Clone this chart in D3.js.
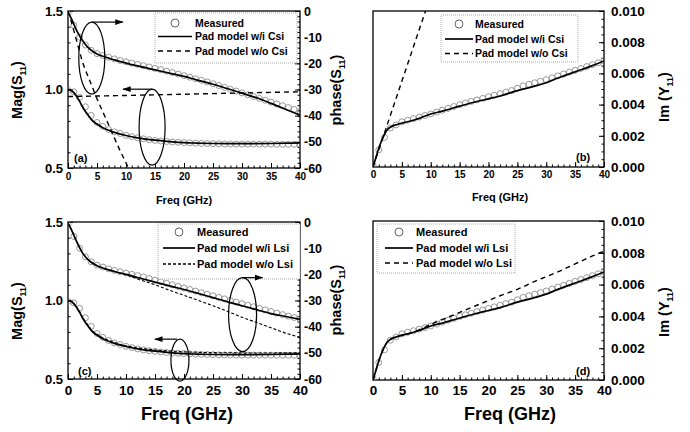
<!DOCTYPE html>
<html>
<head>
<meta charset="utf-8">
<script src="https://cdn.jsdelivr.net/npm/d3@7"></script>
<style>
  body { margin: 0; background: #fff; }
  svg { display: block; font-family: 'Liberation Sans', Arial, Helvetica, sans-serif; font-weight: bold; }
</style>
</head>
<body>
<svg id="chart" width="690" height="432"></svg>
<script>
// ---- data ----
var freqMeas = d3.range(0, 41, 1);

var magMeas = [0.995, 0.985, 0.95, 0.89, 0.835, 0.79, 0.765, 0.745, 0.73, 0.72, 0.708,
  0.70, 0.692, 0.686, 0.68, 0.676, 0.672, 0.669, 0.666, 0.664, 0.662,
  0.66, 0.658, 0.657, 0.656, 0.655, 0.654, 0.653, 0.653, 0.652, 0.652,
  0.652, 0.652, 0.652, 0.652, 0.652, 0.651, 0.651, 0.651, 0.651, 0.651];

var phaseMeasA = [-1, -5.5, -10, -13, -15, -16.3, -17, -17.7, -18.3, -18.9, -19.4,
  -19.9, -20.4, -20.9, -21.4, -21.9, -22.4, -23, -23.5, -24.1, -24.7,
  -25.3, -25.9, -26.5, -27.1, -27.8, -28.5, -29.2, -29.9, -30.6, -31.3,
  -32, -32.7, -33.4, -34.1, -34.8, -35.5, -36.2, -36.9, -37.6, -38.3];

var phaseMeasC = [-1, -5.5, -10, -13.3, -15.2, -16.5, -17.2, -17.9, -18.5, -19, -19.5,
  -20, -20.5, -21, -21.6, -22.2, -22.8, -23.4, -24, -24.6, -25.2,
  -25.8, -26.4, -27, -27.6, -28.2, -28.8, -29.4, -30, -30.6, -31.2,
  -31.8, -32.4, -33, -33.6, -34.2, -34.8, -35.4, -36, -36.5, -37];

var imMeas = [0.0001, 0.0011, 0.0019, 0.0025, 0.0027, 0.0029, 0.003, 0.0031, 0.0032, 0.0033, 0.0034,
  0.00352, 0.00364, 0.00376, 0.00388, 0.004, 0.0041, 0.0042, 0.0043, 0.0044, 0.0045,
  0.0046, 0.0047, 0.0048, 0.0049, 0.00505, 0.0052, 0.0053, 0.0054, 0.0055, 0.0056,
  0.00572, 0.00584, 0.00596, 0.00608, 0.0062, 0.00632, 0.00644, 0.00656, 0.00668, 0.0068];

var freqModel = [0, 0.5, 1, 1.5, 2, 2.5, 3, 3.5, 4, 5, 6, 7, 8, 10, 12, 15, 18, 20, 22, 25, 28, 30, 32, 35, 38, 40];

var magModel = [1.0, 0.995, 0.98, 0.955, 0.925, 0.89, 0.86, 0.835, 0.81, 0.78, 0.757, 0.74, 0.727,
  0.707, 0.692, 0.677, 0.667, 0.662, 0.659, 0.656, 0.655, 0.655, 0.655, 0.656, 0.658, 0.66];

var phaseModelA = [-0.5, -2.5, -5, -7.5, -9.5, -11.3, -12.8, -14, -15, -16.4, -17.3, -18, -18.7,
  -19.9, -21, -22.5, -24, -25, -26.2, -28, -30, -31.4, -32.8, -35.3, -38, -39.8];

var phaseModelC = [-0.5, -2.5, -5, -7.5, -9.8, -11.8, -13.3, -14.5, -15.4, -16.7, -17.6, -18.3, -18.9,
  -20, -21.2, -23, -24.7, -25.8, -27, -28.9, -30.8, -32, -33.2, -35, -36.3, -37.2];

var imModel = [0, 0.0006, 0.0012, 0.0017, 0.0021, 0.0024, 0.00255, 0.00265, 0.0027, 0.00282, 0.0029, 0.003, 0.00312,
  0.0034, 0.00358, 0.0039, 0.0042, 0.00437, 0.00455, 0.0049, 0.00518, 0.0054, 0.0057, 0.0061, 0.0065, 0.0068];

// w/o Csi (panels a, b)
var freqNoCsiMag = [0, 10, 20, 30, 40];
var magNoCsi = [0.955, 0.962, 0.97, 0.978, 0.985];
var freqNoCsiPhase = [0, 0.5, 1, 1.5, 2, 2.5, 3, 4, 5, 6, 7, 8, 9, 10, 10.4];
var phaseNoCsi = [0, -3.5, -7.5, -11.5, -15.5, -19.5, -22.5, -28, -33.5, -38.5, -43.5, -48.5, -53.5, -58, -60];
var freqNoCsiIm = [0, 2, 4, 6, 8, 9.1];
var imNoCsi = [0, 0.0022, 0.0044, 0.0066, 0.0088, 0.0100];

// w/o Lsi (panels c, d)
var magNoLsi = [1.0, 0.995, 0.98, 0.955, 0.928, 0.895, 0.865, 0.84, 0.815, 0.785, 0.762, 0.746, 0.733,
  0.712, 0.698, 0.685, 0.677, 0.673, 0.67, 0.668, 0.667, 0.666, 0.666, 0.666, 0.667, 0.667];
var phaseNoLsi = [-0.5, -2.5, -5, -7.5, -9.8, -11.8, -13.3, -14.5, -15.4, -16.7, -17.6, -18.3, -18.9,
  -20.2, -21.8, -24, -26.5, -28, -29.6, -32, -34.6, -36.4, -38, -40.4, -42.8, -44];
var imNoLsi = [0, 0.0006, 0.0012, 0.0017, 0.0021, 0.0024, 0.00255, 0.00265, 0.0027, 0.00282, 0.0029, 0.003, 0.00315,
  0.0035, 0.0038, 0.00425, 0.0047, 0.005, 0.0053, 0.0057, 0.0062, 0.0065, 0.0068, 0.0073, 0.0078, 0.0081];

var freqTicks = [0, 5, 10, 15, 20, 25, 30, 35, 40];
var magTicks = [0.5, 1.0, 1.5];
var phaseTicks = [0, -10, -20, -30, -40, -50, -60];
var imTicks = [0, 0.002, 0.004, 0.006, 0.008, 0.010];

var svg = d3.select("#chart");

function zip(xs, ys) { return xs.map(function(x, i) { return [x, ys[i]]; }); }

// arrow head
svg.append("defs").append("marker")
  .attr("id", "ah").attr("viewBox", "0 0 10 10").attr("refX", 9).attr("refY", 5)
  .attr("markerWidth", 7).attr("markerHeight", 7).attr("orient", "auto")
  .append("path").attr("d", "M0,1.5 L10,5 L0,8.5 Z").attr("fill", "#000");

function drawPanel(p) {
  var g = svg.append("g");
  var x = d3.scaleLinear().domain([0, 40]).range([p.left, p.right]);
  var yR = d3.scaleLinear().domain(p.rightDomain).range([p.bottom, p.top]);
  var yL = p.leftDomain ? d3.scaleLinear().domain(p.leftDomain).range([p.bottom, p.top]) : null;

  var clipId = "clip" + p.name;
  g.append("clipPath").attr("id", clipId).append("rect")
    .attr("x", p.left).attr("y", p.top).attr("width", p.right - p.left).attr("height", p.bottom - p.top);

  // bottom axis
  g.append("g").attr("transform", "translate(0," + p.bottom + ")")
    .call(d3.axisBottom(x).tickValues(d3.range(0, 41, 1)).tickSize(-2.5).tickFormat(""));
  var bxm = g.append("g").attr("transform", "translate(0," + p.bottom + ")")
    .call(d3.axisBottom(x).tickValues(freqTicks).tickSize(-5).tickPadding(p.xPad).tickFormat(function(d) { return d; }));
  bxm.selectAll("text").attr("font-size", p.xFont).attr("fill", "#000");

  // right axis
  var rMinor = p.leftDomain ? d3.range(-60, 1, 2) : d3.range(0, 0.0101, 0.0005);
  g.append("g").attr("transform", "translate(" + p.right + ",0)")
    .call(d3.axisRight(yR).tickValues(rMinor).tickSize(-2.5).tickFormat(""));
  var rAx = g.append("g").attr("transform", "translate(" + p.right + ",0)")
    .call(d3.axisRight(yR).tickValues(p.leftDomain ? phaseTicks : imTicks).tickSize(-5).tickPadding(p.rPad)
      .tickFormat(p.leftDomain ? function(d) { return String(d); } : d3.format(".3f")));
  rAx.selectAll("text").attr("font-size", p.rFont).attr("fill", "#000");

  // left axis
  if (yL) {
    g.append("g").attr("transform", "translate(" + p.left + ",0)")
      .call(d3.axisLeft(yL).tickValues(d3.range(0.5, 1.51, 0.1)).tickSize(-2.5).tickFormat(""));
    var lAx = g.append("g").attr("transform", "translate(" + p.left + ",0)")
      .call(d3.axisLeft(yL).tickValues(magTicks).tickSize(-5).tickPadding(5).tickFormat(d3.format(".1f")));
    lAx.selectAll("text").attr("font-size", p.lFont).attr("fill", "#000");
  }
  g.selectAll(".domain").remove();
  g.selectAll(".tick line").attr("stroke", "#000").attr("stroke-width", 1);

  // frame
  g.append("rect").attr("x", p.left).attr("y", p.top)
    .attr("width", p.right - p.left).attr("height", p.bottom - p.top)
    .attr("fill", "none").attr("stroke", "#000").attr("stroke-width", 1.3);

  var plot = g.append("g").attr("clip-path", "url(#" + clipId + ")");

  p.series.forEach(function(s) {
    var yS = s.axis === "L" ? yL : yR;
    var pts = zip(s.x, s.y);
    if (s.type === "circle") {
      plot.append("g").selectAll("circle").data(pts).enter().append("circle")
        .attr("cx", function(d) { return x(d[0]); })
        .attr("cy", function(d) { return yS(d[1]); })
        .attr("r", 3).attr("fill", "none").attr("stroke", "#808080").attr("stroke-width", 0.8);
    } else {
      plot.append("path").datum(pts)
        .attr("d", d3.line().x(function(d) { return x(d[0]); }).y(function(d) { return yS(d[1]); }).curve(d3.curveMonotoneX))
        .attr("fill", "none").attr("stroke", "#000")
        .attr("stroke-width", s.dash ? s.w || 1.4 : 1.7)
        .attr("stroke-dasharray", s.dash || null);
    }
  });

  // legend
  var L = p.legend;
  g.append("rect").attr("x", L.x).attr("y", L.y).attr("width", L.w).attr("height", L.h)
    .attr("fill", "#fff").attr("stroke", "#999").attr("stroke-width", 0.8).attr("stroke-dasharray", "1,1");
  L.items.forEach(function(it, i) {
    var yy = L.y + L.rows[i];
    if (it.type === "circle") {
      g.append("circle").attr("cx", L.x + L.sym + L.symW / 2).attr("cy", yy).attr("r", 4)
        .attr("fill", "none").attr("stroke", "#555").attr("stroke-width", 0.9);
    } else {
      g.append("line").attr("x1", L.x + L.sym).attr("x2", L.x + L.sym + L.symW).attr("y1", yy).attr("y2", yy)
        .attr("stroke", "#000").attr("stroke-width", it.dash ? 1.4 : 1.7).attr("stroke-dasharray", it.dash || null);
    }
    g.append("text").attr("x", L.x + L.txt).attr("y", yy).attr("dy", "0.35em")
      .attr("font-size", L.font).text(it.label);
  });

  // panel tag
  g.append("text").attr("x", p.tag[0]).attr("y", p.tag[1]).attr("font-size", 11).text("(" + p.name + ")");

  // axis titles
  g.append("text").attr("x", p.xTitle[0]).attr("y", p.xTitle[1]).attr("text-anchor", "middle")
    .attr("font-size", p.xTitleFont).text("Freq (GHz)");

  function rotTitle(pos, main, sub, tail, fs) {
    var t = g.append("text").attr("transform", "translate(" + pos[0] + "," + pos[1] + ") rotate(-90)")
      .attr("text-anchor", "middle").attr("font-size", fs);
    t.append("tspan").text(main);
    t.append("tspan").attr("font-size", fs * 0.62).attr("dy", fs * 0.3).text(sub);
    t.append("tspan").attr("dy", -fs * 0.3).text(tail);
  }
  if (p.leftTitle) rotTitle(p.leftTitle, "Mag(S", "11", ")", 14.5);
  if (p.leftDomain) rotTitle(p.rightTitle, "phase(S", "11", ")", 14.5);
  else rotTitle(p.rightTitle, "Im (Y", "11", ")", 14.5);

  // ellipse annotations
  (p.notes || []).forEach(function(n) {
    var yS = n.axis === "L" ? yL : yR;
    var cx = x(n.f), cy = yS(n.v);
    g.append("ellipse").attr("cx", cx).attr("cy", cy).attr("rx", n.rx).attr("ry", n.ry)
      .attr("fill", "none").attr("stroke", "#000").attr("stroke-width", 1.2);
    g.append("line").attr("x1", cx + n.a0).attr("y1", cy - n.ry + n.ay).attr("x2", cx + n.a1).attr("y2", cy - n.ry + n.ay)
      .attr("stroke", "#000").attr("stroke-width", 1.2).attr("marker-end", "url(#ah)");
  });
}

var legCsi = [
  { type: "circle", label: "Measured" },
  { type: "line", label: "Pad model w/i Csi" },
  { type: "line", dash: "5,4", label: "Pad model w/o Csi" }
];
var legLsi = [
  { type: "circle", label: "Measured" },
  { type: "line", label: "Pad model w/i Lsi" },
  { type: "line", dash: "3,2", label: "Pad model w/o Lsi" }
];
var legLsiD = [
  { type: "circle", label: "Measured" },
  { type: "line", label: "Pad model w/i Lsi" },
  { type: "line", dash: "5,4", label: "Pad model w/o Lsi" }
];

drawPanel({
  name: "a", left: 68, right: 300, top: 11, bottom: 168,
  leftDomain: [0.5, 1.5], rightDomain: [-60, 0],
  xPad: 5, xFont: 10, rPad: 4, rFont: 12.5, lFont: 13,
  xTitle: [184, 204], xTitleFont: 11, leftTitle: [22, 90], rightTitle: [341, 90],
  tag: [74, 162],
  series: [
    { type: "circle", axis: "R", x: freqMeas, y: phaseMeasA },
    { type: "circle", axis: "L", x: freqMeas, y: magMeas },
    { axis: "R", x: freqModel, y: phaseModelA },
    { axis: "L", x: freqModel, y: magModel },
    { axis: "L", x: freqNoCsiMag, y: magNoCsi, dash: "5,4" },
    { axis: "R", x: freqNoCsiPhase, y: phaseNoCsi, dash: "5,4" }
  ],
  legend: { x: 155, y: 13, w: 142, h: 50, rows: [10, 23.5, 38], sym: 3, symW: 34, txt: 40, font: 10.5, items: legCsi },
  notes: [
    { axis: "L", f: 4.1, v: 1.2, rx: 13, ry: 36, a0: 0, a1: 31, ay: 0 },
    { axis: "L", f: 14.5, v: 0.76, rx: 13, ry: 38, a0: 0, a1: -29, ay: 0 }
  ]
});

drawPanel({
  name: "b", left: 373, right: 604, top: 11, bottom: 167,
  rightDomain: [0, 0.010],
  xPad: 4, xFont: 10, rPad: 7, rFont: 13.5,
  xTitle: [500, 201], xTitleFont: 11, rightTitle: [669, 97],
  tag: [576, 161],
  series: [
    { type: "circle", axis: "R", x: freqMeas, y: imMeas },
    { axis: "R", x: freqModel, y: imModel },
    { axis: "R", x: freqNoCsiIm, y: imNoCsi, dash: "5,4" }
  ],
  legend: { x: 441, y: 15, w: 137, h: 47, rows: [9, 24, 38.5], sym: 4, symW: 28, txt: 34, font: 10.5, items: legCsi }
});

drawPanel({
  name: "c", left: 68, right: 300, top: 222, bottom: 379,
  leftDomain: [0.5, 1.5], rightDomain: [-60, 0],
  xPad: 6, xFont: 13.5, rPad: 4, rFont: 12.5, lFont: 13,
  xTitle: [187, 420], xTitleFont: 18, leftTitle: [22, 311], rightTitle: [341, 300],
  tag: [78, 375],
  series: [
    { type: "circle", axis: "R", x: freqMeas, y: phaseMeasC },
    { type: "circle", axis: "L", x: freqMeas, y: magMeas },
    { axis: "R", x: freqModel, y: phaseModelC },
    { axis: "L", x: freqModel, y: magModel },
    { axis: "L", x: freqModel, y: magNoLsi, dash: "3,2", w: 1.1 },
    { axis: "R", x: freqModel, y: phaseNoLsi, dash: "3,2", w: 1.1 }
  ],
  legend: { x: 158, y: 224, w: 142, h: 55, rows: [8, 24, 40], sym: 5, symW: 32, txt: 39, font: 11, items: legLsi },
  notes: [
    { axis: "R", f: 30.1, v: -35.4, rx: 14, ry: 37, a0: 0, a1: 20, ay: 0 },
    { axis: "L", f: 19.3, v: 0.62, rx: 9, ry: 21, a0: -3, a1: -25, ay: 0 }
  ]
});

drawPanel({
  name: "d", left: 373, right: 604, top: 221, bottom: 380,
  rightDomain: [0, 0.010],
  xPad: 5, xFont: 13.5, rPad: 7, rFont: 13.5,
  xTitle: [510, 420], xTitleFont: 18, rightTitle: [669, 312],
  tag: [576, 375],
  series: [
    { type: "circle", axis: "R", x: freqMeas, y: imMeas },
    { axis: "R", x: freqModel, y: imModel },
    { axis: "R", x: freqModel, y: imNoLsi, dash: "5,4" }
  ],
  legend: { x: 377, y: 224, w: 138, h: 49, rows: [8, 24, 39], sym: 8, symW: 28, txt: 39, font: 11, items: legLsiD }
});
</script>
</body>
</html>
